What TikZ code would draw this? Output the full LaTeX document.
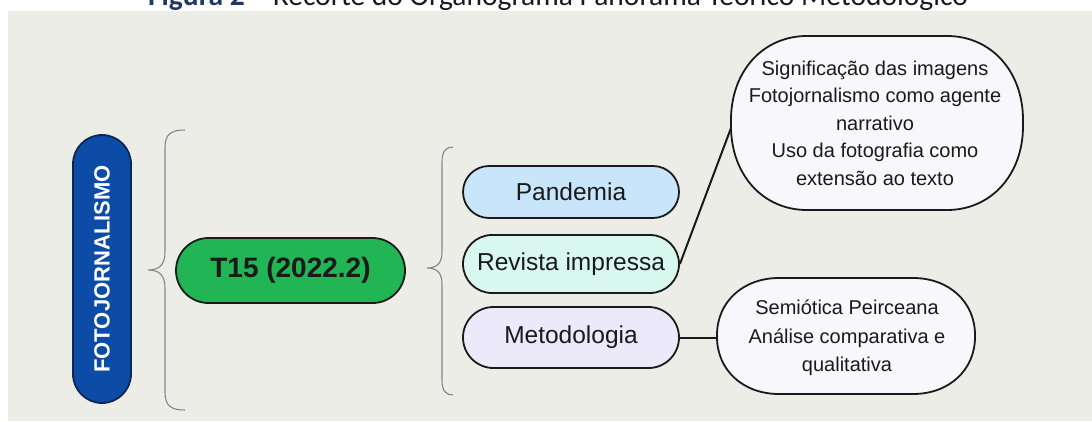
\documentclass[tikz,border=0pt]{standalone}
\usepackage{fontspec}
\setmainfont{Liberation Sans}
\newfontfamily\titlefont{Carlito}
\usetikzlibrary{shapes.misc}
\definecolor{panelbg}{HTML}{EDEDE8}
\definecolor{titleblue}{HTML}{1F3864}
\definecolor{pillblue}{HTML}{0C4BA6}
\definecolor{pillblueborder}{HTML}{0B2754}
\definecolor{pillgreen}{HTML}{22B556}
\definecolor{pandblue}{HTML}{C8E5FA}
\definecolor{revmint}{HTML}{D8F7EE}
\definecolor{metlav}{HTML}{ECE9FB}
\definecolor{softfill}{HTML}{F8F8FC}
\definecolor{ink}{HTML}{1A1A1A}
\definecolor{bracegray}{HTML}{858585}
\newcommand{\softshape}[6]{%
  \pgfmathsetmacro{\kx}{0.58*#5}\pgfmathsetmacro{\ky}{0.58*#6}%
  \draw[softbox] (#1,#2+#6) .. controls (#1,#2+#6-\ky) and (#1+#5-\kx,#2) .. (#1+#5,#2)
    -- (#3-#5,#2) .. controls (#3-#5+\kx,#2) and (#3,#2+#6-\ky) .. (#3,#2+#6)
    -- (#3,#4-#6) .. controls (#3,#4-#6+\ky) and (#3-#5+\kx,#4) .. (#3-#5,#4)
    -- (#1+#5,#4) .. controls (#1+#5-\kx,#4) and (#1,#4-#6+\ky) .. (#1,#4-#6) -- cycle;}
\begin{document}
\begin{tikzpicture}[x=1pt,y=-1pt,
  pill/.style={rounded rectangle, draw=ink, line width=1.8pt, text=ink,
    font=\fontsize{24.5}{29}\selectfont, inner sep=0pt},
  softbox/.style={draw=ink, line width=1.8pt, fill=softfill},
  softtext/.style={align=center, text=ink, font=\fontsize{20}{27.5}\selectfont, inner sep=0pt},
  link/.style={draw=ink, line width=2pt},
  bracestyle/.style={draw=bracegray, line width=1.1pt}]
\useasboundingbox (0,0) rectangle (1092,421);
\clip (0,0) rectangle (1092,421);
\fill[white] (0,0) rectangle (1092,421);
\fill[panelbg] (8,11) rectangle (1092,421);
\node[anchor=base, inner sep=0pt, font=\titlefont\fontsize{29.5}{34}\selectfont, text=ink] (title) at (558,5)
  {{\color{titleblue}\bfseries Figura 2} – Recorte do Organograma Panorama Teórico Metodológico};
% main pills
\node[rounded rectangle, rotate=90, draw=pillblueborder, line width=1.8pt, fill=pillblue,
  minimum width=268pt, minimum height=58pt, inner sep=0pt, text=white,
  font=\bfseries\fontsize{22}{26}\selectfont] (foto) at (102,269) {FOTOJORNALISMO};
\node[pill, fill=pillgreen, minimum width=229pt, minimum height=65pt,
  font=\bfseries\fontsize{28}{32}\selectfont] (t15) at (290.5,270.5) {T15 (2022.2)};
\node[pill, fill=pandblue, minimum width=216pt, minimum height=52pt] (pand) at (571,192) {Pandemia};
\node[pill, fill=revmint, minimum width=216pt, minimum height=58pt] (rev) at (571,264) {Revista impressa};
\node[pill, fill=metlav, minimum width=216pt, minimum height=61pt] (met) at (571,337.5) {Metodologia};
% braces
\coordinate (b1tip) at (148,270);
\coordinate (b2tip) at (427,268);
\draw[bracestyle] (185,130) .. controls (171,130) and (165,134) .. (165,148) -- (165,252)
  .. controls (165,264) and (160,270) .. (b1tip) .. controls (160,270) and (165,276) .. (165,288)
  -- (165,392) .. controls (165,406) and (171,410) .. (185,410);
\draw[bracestyle] (453,147) .. controls (446,147) and (442,151) .. (442,162) -- (442,252)
  .. controls (442,263) and (437,268) .. (b2tip) .. controls (437,268) and (442,273) .. (442,284)
  -- (442,380) .. controls (442,391) and (446,395) .. (453,395);
% soft boxes
\softshape{731}{36}{1023}{210}{76}{84}
\node[softtext] (big) at (875,123) {Significação das imagens\\Fotojornalismo como agente\\narrativo\\Uso da fotografia como\\extensão ao texto};
\coordinate (bigw) at (731,128);
\softshape{717}{278}{975}{394}{62}{57}
\node[softtext, font=\fontsize{20}{28.5}\selectfont] (small) at (847,338) {Semiótica Peirceana\\Análise comparativa e\\qualitativa};
\coordinate (smallw) at (717,337.5);
% connectors
\draw[link] (rev.east) -- (bigw);
\draw[link] (met.east) -- (smallw);
\end{tikzpicture}
\end{document}
